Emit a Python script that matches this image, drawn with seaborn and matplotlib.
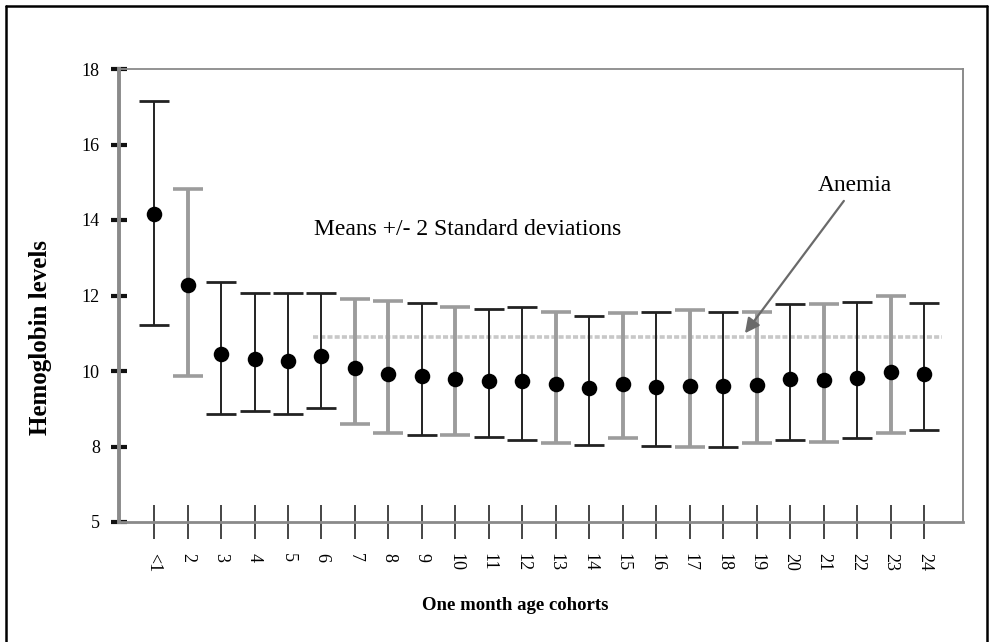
import matplotlib
matplotlib.use("Agg")
import matplotlib.pyplot as plt
from matplotlib.lines import Line2D
import seaborn as sns
import numpy as np

# Age cohorts (months) and hemoglobin summary values
cohorts = ["<1", "2", "3", "4", "5", "6", "7", "8", "9", "10", "11", "12",
           "13", "14", "15", "16", "17", "18", "19", "20", "21", "22", "23", "24"]
means = [14.15, 12.28, 10.45, 10.31, 10.27, 10.39, 10.07, 9.92, 9.87, 9.80, 9.74, 9.74,
         9.65, 9.56, 9.65, 9.58, 9.60, 9.60, 9.63, 9.78, 9.76, 9.82, 9.98, 9.92]
upper = [17.16, 14.83, 12.37, 12.06, 12.06, 12.07, 11.91, 11.85, 11.80, 11.70, 11.64, 11.69,
         11.57, 11.46, 11.53, 11.55, 11.62, 11.57, 11.57, 11.77, 11.77, 11.84, 12.00, 11.81]
lower = [11.22, 9.87, 8.86, 8.94, 8.86, 9.03, 8.59, 8.35, 8.31, 8.31, 8.24, 8.17,
         8.10, 8.04, 8.22, 8.02, 8.00, 8.00, 8.08, 8.16, 8.11, 8.22, 8.35, 8.44]
anemia_level = 10.9

y_tick_values = [6, 8, 10, 12, 14, 16, 18]
y_tick_labels = ["5", "8", "10", "12", "14", "16", "18"]

# alternating shading of the bars and tick marks
bar_shade = ["k", "g", "k", "k", "k", "k", "g", "g", "k", "g", "k", "k",
             "g", "k", "g", "k", "g", "k", "g", "k", "g", "k", "g", "k"]
tick_shade = ["k", "g", "k", "k", "k", "k", "g", "g", "k", "k", "k", "k",
              "g", "k", "g", "k", "k", "k", "g", "k", "g", "k", "k", "k"]

sns.set_theme(style="white")
plt.rcParams["font.family"] = ["Liberation Serif", "DejaVu Serif"]
plt.rcParams["text.color"] = "black"
plt.rcParams["xtick.labelcolor"] = "black"
plt.rcParams["ytick.labelcolor"] = "black"

fig = plt.figure(figsize=(9.89, 6.42), dpi=100)
ax = fig.add_axes([119 / 989, 1 - 522 / 642, (963 - 119) / 989, (522 - 69) / 642])

x = np.arange(len(cohorts))

# error bars: mean +/- 2 SD
for i in range(len(cohorts)):
    dark = bar_shade[i] == "k"
    col = "#222222" if dark else "#9c9c9c"
    lw = 1.4 if dark else 2.8
    ax.errorbar(x[i], means[i],
                yerr=[[means[i] - lower[i]], [upper[i] - means[i]]],
                fmt="none", ecolor=col, elinewidth=lw, capsize=11,
                capthick=2.0 if dark else 2.6, zorder=2)

# anemia threshold
ax.plot([4.75, 23.52], [anemia_level, anemia_level], color="#c8c8c8",
        lw=2.6, ls=(0, (1.4, 0.6)), zorder=1)

# means
sns.scatterplot(x=x, y=means, color="black", s=125, edgecolor="black",
                linewidth=0, zorder=3, ax=ax)

ax.set_xlim(-1.045, 24.15)
ax.set_ylim(6, 18)

ax.set_yticks(y_tick_values)
ax.set_yticklabels(y_tick_labels, fontsize=13, color="black")
ax.set_xticks(x)
ax.set_xticklabels(cohorts, rotation=-90, fontsize=13, va="top", ha="center",
                   color="black")

ax.tick_params(axis="y", direction="inout", length=11.5, width=3, color="#111111",
               pad=8, left=True)
ax.tick_params(axis="x", direction="inout", length=24, width=1.2, pad=10, bottom=True)
for tl, shade in zip(ax.xaxis.get_ticklines(), np.repeat(tick_shade, 2)):
    tl.set_color("#555555" if shade == "k" else "#c0c0c0")
for tl in ax.xaxis.get_ticklines()[1::2]:
    tl.set_visible(False)

for side in ["left", "right", "top", "bottom"]:
    ax.spines[side].set_visible(True)
    ax.spines[side].set_color("#8a8a8a")
ax.spines["left"].set_linewidth(2.8)
ax.spines["top"].set_linewidth(1.3)
ax.spines["right"].set_linewidth(1.4)
ax.spines["bottom"].set_linewidth(2.0)
ax.grid(False)

ax.set_xlabel("")
ax.set_ylabel("")
fig.text(41 / 989, 1 - 338 / 642, "Hemoglobin levels", rotation=90, fontsize=18,
         fontweight="bold", ha="center", va="center", color="black")
fig.text(515 / 989, 1 - 606 / 642, "One month age cohorts", fontsize=13.5,
         fontweight="bold", ha="center", va="center", color="black")

ax.text(468 / 989, 1 - 230 / 642, "Means +/- 2 Standard deviations", fontsize=17,
        ha="center", va="center", transform=fig.transFigure, color="black")
ax.annotate("Anemia", xy=((745 - 154) / 33.5, anemia_level + 0.1),
            xytext=(855 / 989, 1 - 186 / 642), textcoords="figure fraction",
            fontsize=16.8, ha="center", va="center", color="black",
            arrowprops=dict(arrowstyle="-|>", color="#6a6a6a", lw=1.6,
                            mutation_scale=22, shrinkA=1, shrinkB=0))

# frame around the whole figure (open at the bottom edge)
for xs, ys in [([6 / 989, 6 / 989], [-0.01, 1 - 6 / 642]),
               ([6 / 989, 987 / 989], [1 - 6 / 642, 1 - 6 / 642]),
               ([987 / 989, 987 / 989], [1 - 6 / 642, -0.01])]:
    fig.add_artist(Line2D(xs, ys, color="black", lw=1.8, transform=fig.transFigure))

fig.savefig("out.png", dpi=100, facecolor="white")
